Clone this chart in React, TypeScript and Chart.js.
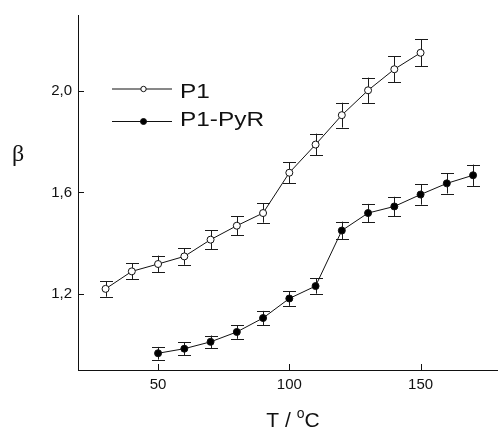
import React, { useEffect, useRef } from "react";
import { Chart, registerables } from "chart.js";

Chart.register(...registerables);

// ---- data ----
const seriesLabels = ["P1", "P1-PyR"];
const temperaturesP1 = [30, 40, 50, 60, 70, 80, 90, 100, 110, 120, 130, 140, 150];
const betaP1 = [1.22, 1.289, 1.318, 1.348, 1.414, 1.469, 1.519, 1.678, 1.789, 1.905, 2.003, 2.086, 2.151];
const errP1 = [0.031, 0.032, 0.033, 0.033, 0.037, 0.037, 0.038, 0.042, 0.043, 0.049, 0.05, 0.052, 0.053];
const temperaturesPyR = [50, 60, 70, 80, 90, 100, 110, 120, 130, 140, 150, 160, 170];
const betaPyR = [0.966, 0.984, 1.011, 1.05, 1.105, 1.182, 1.231, 1.45, 1.519, 1.545, 1.592, 1.636, 1.668];
const errPyR = [0.025, 0.025, 0.025, 0.027, 0.028, 0.029, 0.03, 0.035, 0.036, 0.038, 0.04, 0.04, 0.042];
const xTicks = [50, 100, 150];
const yTicks = [1.2, 1.6, 2.0];
const xTitle = "T / ";
const xTitleSup = "o";
const xTitleUnit = "C";
const yTitle = "β";

const errorsByDataset = [errP1, errPyR];

const INK = "#111111";
const SANS = "'Liberation Sans', Arial, sans-serif";

const legendMarkerY = [89, 121.5];
const legendTextBaseline = [97.5, 125.8];
const legendMarkerR = [2.7, 3];

const errorBarPlugin = {
  id: "errorBars",
  beforeDatasetsDraw(chart: any) {
    const ctx = chart.ctx;
    const xs = chart.scales.x;
    const ys = chart.scales.y;
    ctx.save();
    ctx.strokeStyle = "#1a1a1a";
    ctx.lineWidth = 1;
    chart.data.datasets.forEach((ds: any, i: number) => {
      const errs = errorsByDataset[i];
      ds.data.forEach((pt: any, j: number) => {
        const px = Math.round(xs.getPixelForValue(pt.x)) + 0.5;
        const top = ys.getPixelForValue(pt.y + errs[j]);
        const bot = ys.getPixelForValue(pt.y - errs[j]);
        const cap = 6.5;
        ctx.beginPath();
        ctx.moveTo(px, top);
        ctx.lineTo(px, bot);
        ctx.moveTo(px - cap, Math.round(top) + 0.5);
        ctx.lineTo(px + cap, Math.round(top) + 0.5);
        ctx.moveTo(px - cap, Math.round(bot) + 0.5);
        ctx.lineTo(px + cap, Math.round(bot) + 0.5);
        ctx.stroke();
      });
    });
    ctx.restore();
  },
};

const decorPlugin = {
  id: "decor",
  afterDraw(chart: any) {
    const ctx = chart.ctx;
    const xs = chart.scales.x;
    const ys = chart.scales.y;
    const area = chart.chartArea;
    ctx.save();
    // inner ticks
    ctx.strokeStyle = INK;
    ctx.lineWidth = 1;
    ctx.beginPath();
    xs.ticks.forEach((t: any) => {
      const px = Math.round(xs.getPixelForValue(t.value)) + 0.5;
      ctx.moveTo(px, area.bottom);
      ctx.lineTo(px, area.bottom - 6);
    });
    ys.ticks.forEach((t: any) => {
      const py = Math.round(ys.getPixelForValue(t.value)) + 0.5;
      ctx.moveTo(area.left, py);
      ctx.lineTo(area.left + 6, py);
    });
    ctx.stroke();

    // axis titles
    ctx.fillStyle = INK;
    ctx.font = "24px 'Liberation Serif', 'DejaVu Serif', serif";
    ctx.textAlign = "center";
    ctx.textBaseline = "middle";
    ctx.fillText(yTitle, 18, 155);

    ctx.textAlign = "left";
    ctx.textBaseline = "alphabetic";
    ctx.font = `21px ${SANS}`;
    const w1 = ctx.measureText(xTitle).width;
    ctx.font = `14px ${SANS}`;
    const w2 = ctx.measureText(xTitleSup).width;
    ctx.font = `21px ${SANS}`;
    const w3 = ctx.measureText(xTitleUnit).width;
    const total = w1 + w2 + w3;
    const x0 = 293 - total / 2;
    const base = 427;
    ctx.fillText(xTitle, x0, base);
    ctx.font = `14px ${SANS}`;
    ctx.fillText(xTitleSup, x0 + w1, base - 9);
    ctx.font = `21px ${SANS}`;
    ctx.fillText(xTitleUnit, x0 + w1 + w2, base);

    // legend
    chart.data.datasets.forEach((ds: any, i: number) => {
      const y = legendMarkerY[i];
      ctx.strokeStyle = INK;
      ctx.lineWidth = 1;
      ctx.beginPath();
      ctx.moveTo(112, y);
      ctx.lineTo(172, y);
      ctx.stroke();
      ctx.beginPath();
      ctx.arc(143.5, y, legendMarkerR[i], 0, Math.PI * 2);
      ctx.fillStyle = ds.pointBackgroundColor;
      ctx.fill();
      ctx.stroke();
      ctx.save();
      ctx.fillStyle = INK;
      ctx.font = `20px ${SANS}`;
      ctx.textAlign = "left";
      ctx.textBaseline = "alphabetic";
      ctx.translate(180, legendTextBaseline[i]);
      ctx.scale(1.22, 1);
      ctx.fillText(ds.label, 0, 0);
      ctx.restore();
    });
    ctx.restore();
  },
};

export default function App() {
  const ref = useRef<HTMLCanvasElement | null>(null);

  useEffect(() => {
    if (!ref.current) return;
    const chart = new Chart(ref.current, {
      type: "line",
      data: {
        datasets: [
          {
            label: seriesLabels[0],
            data: temperaturesP1.map((t, i) => ({ x: t, y: betaP1[i] })),
            borderColor: INK,
            borderWidth: 1,
            pointRadius: 3.5,
            pointBorderWidth: 1,
            pointBackgroundColor: "#ffffff",
            pointBorderColor: INK,
            tension: 0,
          },
          {
            label: seriesLabels[1],
            data: temperaturesPyR.map((t, i) => ({ x: t, y: betaPyR[i] })),
            borderColor: INK,
            borderWidth: 1,
            pointRadius: 3.5,
            pointBorderWidth: 1,
            pointBackgroundColor: "#000000",
            pointBorderColor: INK,
            tension: 0,
          },
        ],
      },
      options: {
        animation: false,
        responsive: false,
        devicePixelRatio: 1,
        layout: { autoPadding: false, padding: { top: 14, right: 0, left: 0, bottom: 0 } },
        plugins: {
          legend: { display: false },
          tooltip: { enabled: false },
        },
        scales: {
          x: {
            type: "linear",
            min: 19.5,
            max: 179.5,
            grid: { display: false, drawTicks: false },
            border: { display: true, color: INK, width: 1 },
            afterBuildTicks: (s: any) => {
              s.ticks = xTicks.map((v) => ({ value: v }));
            },
            afterFit: (s: any) => {
              s.height = 60;
            },
            ticks: {
              color: INK,
              padding: 6,
              font: { family: SANS, size: 15 },
              maxRotation: 0,
              callback: (v: any) => String(v),
            },
          },
          y: {
            type: "linear",
            min: 0.9,
            max: 2.3,
            grid: { display: false, drawTicks: false },
            border: { display: true, color: INK, width: 1 },
            afterBuildTicks: (s: any) => {
              s.ticks = yTicks.map((v) => ({ value: v }));
            },
            afterFit: (s: any) => {
              s.width = 78;
            },
            ticks: {
              color: INK,
              padding: 6,
              font: { family: SANS, size: 15 },
              callback: (v: any) => Number(v).toFixed(1).replace(".", ","),
            },
          },
        },
      },
      plugins: [errorBarPlugin, decorPlugin],
    });
    return () => chart.destroy();
  }, []);

  return (
    <div style={{ position: "absolute", left: 0, top: 0, width: 498, height: 430, background: "#fff" }}>
      <canvas ref={ref} width={498} height={430} style={{ display: "block" }} />
    </div>
  );
}
